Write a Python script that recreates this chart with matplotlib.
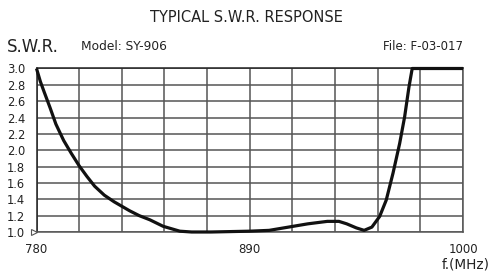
import matplotlib
matplotlib.use("Agg")
import matplotlib.pyplot as plt

freq = [780, 782, 784, 787, 790, 794, 798, 802, 806, 810, 815, 820, 828, 833, 838.4, 845.3,
        853.9, 860, 870, 880, 890, 900, 910, 920, 930, 936, 940, 945, 949, 953, 957,
        960.4, 963.9, 967.3, 969.9, 972.1, 973.8, 1000]
swr = [3.0, 2.84, 2.71, 2.52, 2.32, 2.12, 1.96, 1.81, 1.68, 1.56, 1.45, 1.37, 1.26, 1.20, 1.15, 1.07,
       1.01, 1.0, 1.0, 1.005, 1.01, 1.02, 1.06, 1.10, 1.13, 1.13, 1.10, 1.05, 1.02, 1.06, 1.19,
       1.39, 1.72, 2.08, 2.41, 2.77, 3.0, 3.0]
y_ticks = [1.0, 1.2, 1.4, 1.6, 1.8, 2.0, 2.2, 2.4, 2.6, 2.8, 3.0]
x_grid = [780, 802, 824, 846, 868, 890, 912, 934, 956, 978, 1000]
x_labels = {780: "780", 890: "890", 1000: "1000"}

plt.rcParams['font.family'] = ['DejaVu Sans']
fig = plt.figure(figsize=(4.92, 2.75), dpi=100)
ax = fig.add_axes([36.5/492, 1-232/275, (463-36.5)/492, (232-68.5)/275])

ax.set_xlim(780, 1000)
ax.set_ylim(1.0, 3.0)
ax.set_xticks(x_grid)
ax.set_xticklabels([x_labels.get(v, "") for v in x_grid], fontsize=8.5, color="#222222")
ax.set_yticks(y_ticks)
ax.set_yticklabels([f"{v:.1f}" for v in y_ticks], fontsize=8.3, color="#222222")
ax.tick_params(length=0, pad=8, axis='x')
ax.tick_params(length=0, pad=8, axis='y')
ax.grid(True, color="#555555", linewidth=1.1)
for s in ax.spines.values():
    s.set_color("#555555")
    s.set_linewidth(1.1)
ax.spines['left'].set_color("#222222")
ax.spines['top'].set_color("#222222")

ax.plot(freq, swr, color="#111111", linewidth=2.3, clip_on=False, zorder=5,
        solid_joinstyle='round', solid_capstyle='butt')
ax.plot([778.8], [1.0], marker='>', markersize=4, markerfacecolor='white',
        markeredgecolor='#555555', markeredgewidth=0.8, clip_on=False, zorder=6)

fig.text(0.5, 1-17/275, "TYPICAL S.W.R. RESPONSE", ha="center", va="center", fontsize=10.5, color="#222222")
fig.text(7/492, 1-47/275, "S.W.R.", ha="left", va="center", fontsize=12, color="#222222")
fig.text(81/492, 1-47/275, "Model: SY-906", ha="left", va="center", fontsize=8.8, color="#222222")
fig.text(463/492, 1-47/275, "File: F-03-017", ha="right", va="center", fontsize=8.5, color="#222222")
fig.text(490/492, 1-264/275, "f.(MHz)", ha="right", va="center", fontsize=9.8, color="#222222")

fig.savefig("out.png", dpi=100)
